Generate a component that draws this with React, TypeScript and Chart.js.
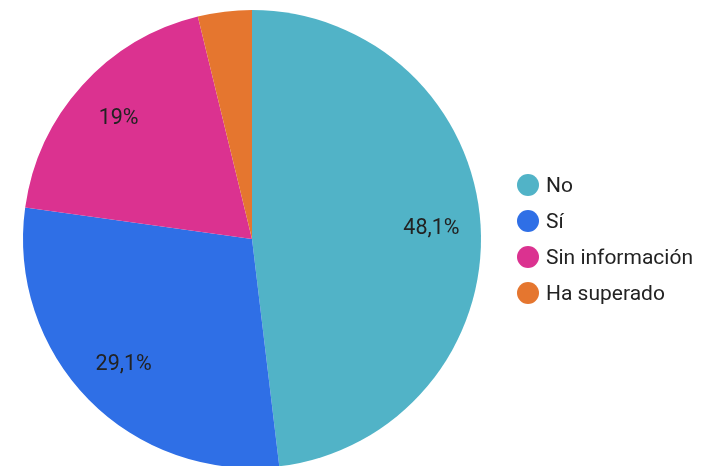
import React, { useEffect, useRef } from "react";
import { Chart, registerables } from "chart.js";

Chart.register(...registerables);

const categories = ["No", "Sí", "Sin información", "Ha superado"];
const values = [48.1, 29.1, 19, 3.8];
const valueLabels = ["48,1%", "29,1%", "19%", ""];
const colors = ["#51B3C7", "#2F6FE6", "#DB3290", "#E5762F"];

const FONT = "Roboto, 'Noto Sans', sans-serif";

const sliceLabels = {
  id: "sliceLabels",
  afterDatasetsDraw(chart: any) {
    const ctx = chart.ctx;
    const meta = chart.getDatasetMeta(0);
    ctx.save();
    ctx.font = `21.5px ${FONT}`;
    ctx.fillStyle = "#222222";
    ctx.textAlign = "center";
    ctx.textBaseline = "middle";
    meta.data.forEach((arc: any, i: number) => {
      const text = valueLabels[i];
      if (!text) return;
      const { x, y, startAngle, endAngle, outerRadius } = arc.getProps(
        ["x", "y", "startAngle", "endAngle", "outerRadius"],
        true
      );
      const mid = (startAngle + endAngle) / 2;
      const r = outerRadius * 0.785;
      ctx.fillText(text, x + Math.cos(mid) * r, y + Math.sin(mid) * r);
    });
    ctx.restore();
  },
};

export default function App() {
  const ref = useRef<HTMLCanvasElement | null>(null);

  useEffect(() => {
    if (!ref.current) return;
    const chart = new Chart(ref.current, {
      type: "pie",
      data: {
        labels: categories,
        datasets: [
          {
            data: values,
            backgroundColor: colors,
            borderWidth: 0,
          },
        ],
      },
      options: {
        animation: false,
        responsive: false,
        layout: { padding: { top: 10, bottom: 12, left: 0, right: 198 } },
        plugins: {
          legend: { display: false },
          tooltip: { enabled: false },
        },
      },
      plugins: [sliceLabels],
    });
    return () => chart.destroy();
  }, []);

  return (
    <div
      style={{
        position: "fixed",
        left: 0,
        top: 0,
        width: 702,
        height: 466,
        overflow: "hidden",
        background: "#ffffff",
        fontFamily: FONT,
      }}
    >
      <canvas
        ref={ref}
        width={702}
        height={480}
        style={{ position: "absolute", left: 0, top: 0, width: 702, height: 480 }}
      />
      {categories.map((c, i) => (
        <div
          key={c}
          style={{
            position: "absolute",
            left: 517,
            top: 185 + i * 36 - 12,
            height: 24,
            display: "flex",
            alignItems: "center",
            whiteSpace: "nowrap",
          }}
        >
          <span
            style={{
              display: "inline-block",
              width: 22,
              height: 22,
              borderRadius: "50%",
              background: colors[i],
              marginRight: 7,
            }}
          />
          <span style={{ fontSize: 21, color: "#222222" }}>{c}</span>
        </div>
      ))}
    </div>
  );
}
